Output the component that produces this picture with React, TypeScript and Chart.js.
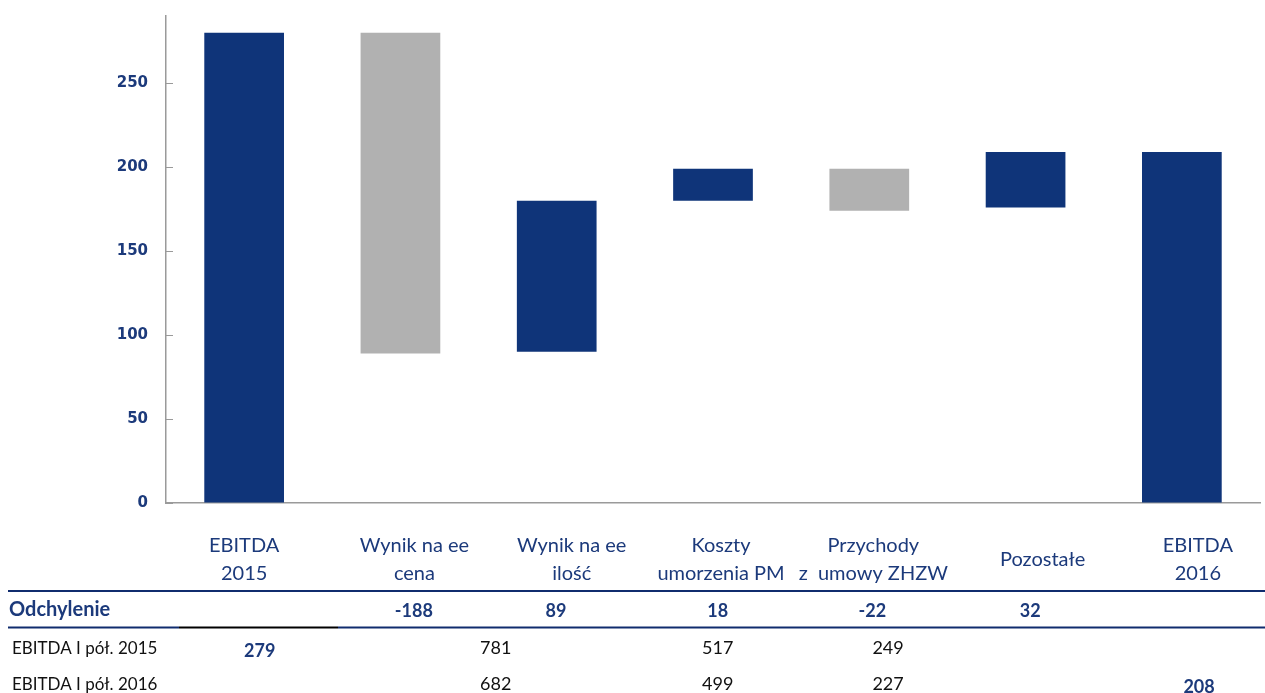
import React, { useEffect, useRef } from 'react';
import { Chart, registerables } from 'chart.js';

Chart.register(...registerables);

// ---- data ----
const categories: string[][] = [
  ['EBITDA', '2015'],
  ['Wynik na ee', 'cena'],
  ['Wynik na ee', 'ilość'],
  ['Koszty', 'umorzenia PM'],
  ['Przychody', 'z  umowy ZHZW'],
  ['Pozostałe'],
  ['EBITDA', '2016'],
];
const barLow = [0, 89, 90, 180, 174, 176, 0];
const barHigh = [280, 280, 180, 199, 199, 209, 209];
const barKind = ['total', 'decrease', 'increase', 'increase', 'decrease', 'increase', 'total'];

const yMin = 0;
const yMax = 290;
const yStep = 50;

const deviationTitle = 'Odchylenie';
const deviations: (number | null)[] = [null, -188, 89, 18, -22, 32, null];

const row2015Title = 'EBITDA I pół. 2015';
const row2015Values = [279, 781, 517, 249];
const row2015Bold = [true, false, false, false];

const row2016Title = 'EBITDA I pół. 2016';
const row2016Values = [682, 499, 227, 208];
const row2016Bold = [false, false, false, true];

// ---- layout / style ----
const NAVY = '#0F3479';
const NAVY_TEXT = '#1C3A7B';
const GRAY = '#B1B1B1';
const AXIS = '#9A9A9A';
const LABEL_SHIFT = [0, 14, 15, 8, 4, 17, 16];
const DEV_POS = [0, 1.086, 1.995, 3.03, 4.02, 5.03, 0];
const ROW15_POS = [0.1, 1.61, 3.03, 4.12];
const ROW16_POS = [1.61, 3.03, 4.12, 6.11];

const tablePlugin = {
  id: 'tablePlugin',
  afterDraw(chart: any) {
    const ctx: CanvasRenderingContext2D = chart.ctx;
    const xs = chart.scales.x;
    const x0 = xs.getPixelForValue(0);
    const step = xs.getPixelForValue(1) - x0;
    const px = (p: number) => x0 + p * step;
    const W = chart.width;
    ctx.save();

    // category labels
    ctx.textAlign = 'center';
    ctx.textBaseline = 'alphabetic';
    ctx.font = '20px Lato';
    ctx.fillStyle = NAVY_TEXT;
    categories.forEach((lines, i) => {
      const cx = xs.getPixelForValue(i) + LABEL_SHIFT[i];
      if (lines.length === 1) {
        ctx.fillText(lines[0], cx, 566);
      } else {
        lines.forEach((t, j) => ctx.fillText(t, cx, 552 + 28 * j));
      }
    });

    // separator lines
    ctx.lineWidth = 2;
    ctx.strokeStyle = '#102C6E';
    ctx.beginPath();
    ctx.moveTo(8, 591);
    ctx.lineTo(W, 591);
    ctx.stroke();

    ctx.beginPath();
    ctx.moveTo(8, 627.5);
    ctx.lineTo(179, 627.5);
    ctx.moveTo(338, 627.5);
    ctx.lineTo(W, 627.5);
    ctx.stroke();
    ctx.strokeStyle = '#000000';
    ctx.beginPath();
    ctx.moveTo(179, 627.5);
    ctx.lineTo(338, 627.5);
    ctx.stroke();

    // deviation row
    ctx.textAlign = 'left';
    ctx.font = 'bold 20px Lato';
    ctx.fillStyle = NAVY_TEXT;
    ctx.fillText(deviationTitle, 9, 616);
    ctx.textAlign = 'center';
    ctx.font = 'bold 18px Lato';
    deviations.forEach((v, i) => {
      if (v === null) return;
      ctx.fillText(String(v), px(DEV_POS[i]), 617);
    });

    // EBITDA rows
    const drawRow = (title: string, vals: number[], pos: number[], bold: boolean[], base: number) => {
      ctx.textAlign = 'left';
      ctx.font = '17px Lato';
      ctx.fillStyle = '#111111';
      ctx.fillText(title, 12, base);
      ctx.textAlign = 'center';
      vals.forEach((v, i) => {
        if (bold[i]) {
          ctx.font = 'bold 18px Lato';
          ctx.fillStyle = NAVY_TEXT;
          ctx.fillText(String(v), px(pos[i]), base + 3);
        } else {
          ctx.font = '18px Lato';
          ctx.fillStyle = '#111111';
          ctx.fillText(String(v), px(pos[i]), base);
        }
      });
    };
    drawRow(row2015Title, row2015Values, ROW15_POS, row2015Bold, 654);
    drawRow(row2016Title, row2016Values, ROW16_POS, row2016Bold, 690);

    ctx.restore();
  },
};

export default function App() {
  const ref = useRef<HTMLCanvasElement | null>(null);

  useEffect(() => {
    if (!ref.current) return;
    const chart = new Chart(ref.current, {
      type: 'bar',
      data: {
        labels: categories.map((c) => c.join(' ')),
        datasets: [
          {
            data: barLow.map((lo, i) => [lo, barHigh[i]]) as any,
            backgroundColor: barKind.map((k) => (k === 'decrease' ? GRAY : NAVY)),
            borderWidth: 0,
            barPercentage: 0.51,
            categoryPercentage: 1,
          },
        ],
      },
      options: {
        responsive: false,
        animation: false,
        layout: { padding: { top: 16, right: 5, left: 0, bottom: 0 } },
        plugins: {
          legend: { display: false },
          tooltip: { enabled: false },
        },
        scales: {
          x: {
            type: 'category',
            offset: true,
            grid: { display: false },
            border: { display: true, color: AXIS, width: 1.5 },
            ticks: { display: false },
            afterFit: (scale: any) => {
              scale.height = 190;
              scale.paddingLeft = 0;
              scale.paddingRight = 0;
            },
          },
          y: {
            min: yMin,
            max: yMax,
            border: { display: true, color: AXIS, width: 1.5 },
            grid: {
              drawOnChartArea: false,
              drawTicks: true,
              tickLength: -7,
              color: AXIS,
              lineWidth: 1,
            },
            ticks: {
              stepSize: yStep,
              includeBounds: false,
              padding: 25,
              color: NAVY_TEXT,
              font: { family: 'DejaVu Sans', weight: 'bold', size: 15 },
            },
            afterFit: (scale: any) => {
              scale.width = 166;
              scale.paddingTop = 0;
              scale.paddingBottom = 0;
            },
          },
        },
      },
      plugins: [tablePlugin],
    });
    return () => chart.destroy();
  }, []);

  return (
    <div style={{ position: 'fixed', left: 0, top: 0, width: 1265, height: 693, background: '#fff' }}>
      <canvas ref={ref} width={1265} height={693} style={{ display: 'block' }} />
    </div>
  );
}
